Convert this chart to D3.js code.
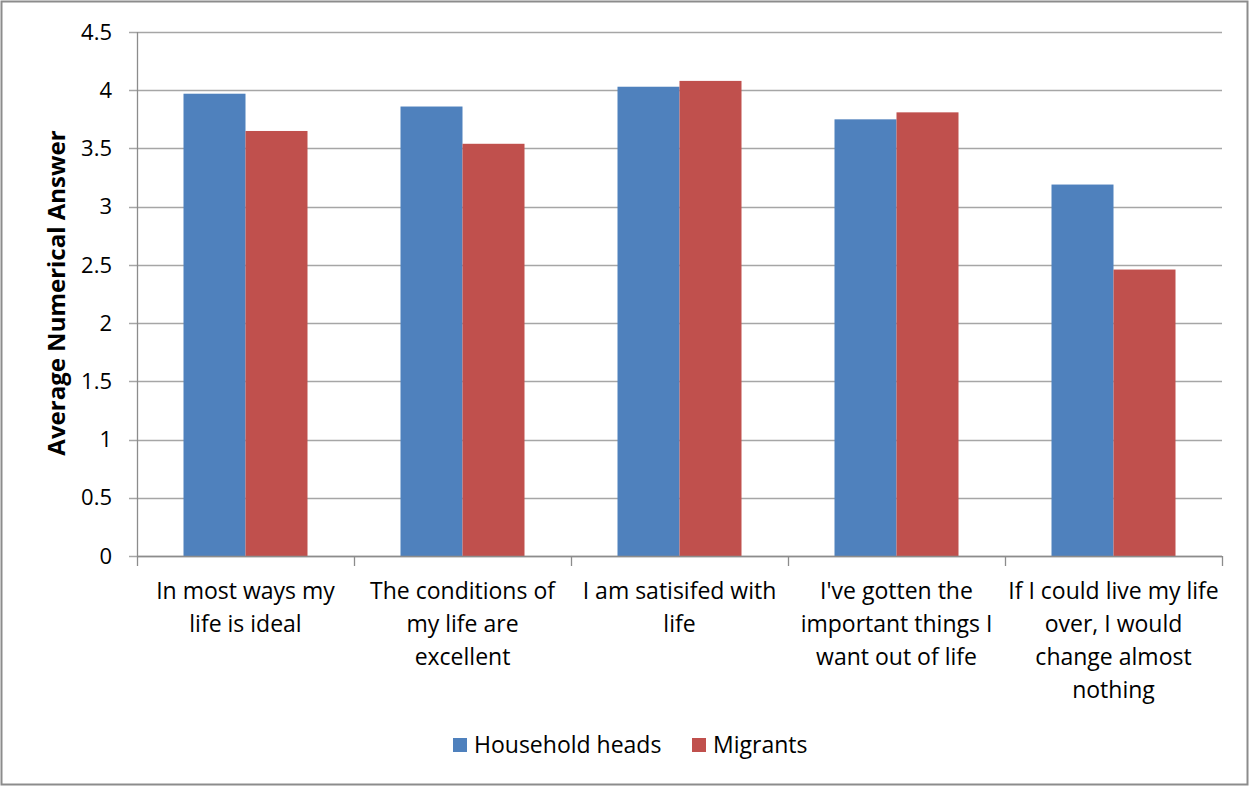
<!DOCTYPE html>
<html>
<head>
<meta charset="utf-8">
<script src="https://cdn.jsdelivr.net/npm/d3@7"></script>
<style>
  body { margin: 0; background: #fff; }
  text { font-family: "Open Sans", Lato, sans-serif; fill: #000; }
</style>
</head>
<body>
<div class="chart"></div>
<script>
var w = 1249;
var h = 786;

// data
var categories = [
  "In most ways my|life is ideal",
  "The conditions of|my life are|excellent",
  "I am satisifed with|life",
  "I've gotten the|important things I|want out of life",
  "If I could live my life|over, I would|change almost|nothing"
];
var series = ["Household heads", "Migrants"];
var householdHeads = [3.97, 3.86, 4.03, 3.75, 3.19];
var migrants = [3.65, 3.54, 4.08, 3.81, 2.46];
var yTicks = [0, 0.5, 1, 1.5, 2, 2.5, 3, 3.5, 4, 4.5];
var colors = ["#4F81BD", "#C0504D"];

var rows = categories.map(function(c, i) {
  return { cat: c, values: [householdHeads[i], migrants[i]] };
});

var plotLeft = 137, plotRight = 1222, plotTop = 32, plotBottom = 556;

var svg = d3.select(".chart")
    .append("svg")
    .attr("width", w)
    .attr("height", h);

// outer frame
svg.append("rect")
    .attr("x", 1.5).attr("y", 1.5)
    .attr("width", w - 3).attr("height", h - 3)
    .attr("fill", "#fff")
    .attr("stroke", "#8c8c8c")
    .attr("stroke-width", 2);

var x0 = d3.scaleBand()
    .domain(categories)
    .range([plotLeft, plotRight])
    .padding(0);

var x1 = d3.scaleBand()
    .domain(series)
    .range([0, x0.bandwidth()])
    .paddingInner(0)
    .paddingOuter(0.75);

var y = d3.scaleLinear()
    .domain([0, 4.5])
    .range([plotBottom, plotTop]);

// gridlines
svg.selectAll(".grid")
    .data(yTicks)
    .enter()
    .append("line")
    .attr("x1", plotLeft - 8)
    .attr("x2", plotRight)
    .attr("y1", function(d) { return Math.round(y(d)) + 0.5; })
    .attr("y2", function(d) { return Math.round(y(d)) + 0.5; })
    .attr("stroke", "#a6a6a6")
    .attr("stroke-width", 1.3);

// bars
var groups = svg.selectAll(".group")
    .data(rows)
    .enter()
    .append("g")
    .attr("transform", function(d) { return "translate(" + x0(d.cat) + ",0)"; });

groups.selectAll("rect")
    .data(function(d) { return d.values.map(function(v, i) { return { s: series[i], v: v, i: i }; }); })
    .enter()
    .append("rect")
    .attr("x", function(d) { return x1(d.s); })
    .attr("width", x1.bandwidth())
    .attr("y", function(d) { return y(d.v); })
    .attr("height", function(d) { return y(0) - y(d.v); })
    .attr("fill", function(d) { return colors[d.i]; });

// y axis line
svg.append("line")
    .attr("x1", plotLeft + 0.5).attr("x2", plotLeft + 0.5)
    .attr("y1", plotTop).attr("y2", plotBottom)
    .attr("stroke", "#8c8c8c").attr("stroke-width", 1.3);

// x axis line + ticks at category boundaries
svg.append("line")
    .attr("x1", plotLeft).attr("x2", plotRight)
    .attr("y1", Math.round(y(0)) + 0.5).attr("y2", Math.round(y(0)) + 0.5)
    .attr("stroke", "#8c8c8c").attr("stroke-width", 1.3);

var bounds = categories.map(function(c) { return x0(c); }).concat([plotRight]);
svg.selectAll(".xtick")
    .data(bounds)
    .enter()
    .append("line")
    .attr("x1", function(d) { return Math.round(d) + 0.5; })
    .attr("x2", function(d) { return Math.round(d) + 0.5; })
    .attr("y1", plotBottom)
    .attr("y2", plotBottom + 10)
    .attr("stroke", "#8c8c8c").attr("stroke-width", 1.3);

// y tick labels
svg.selectAll(".ylabel")
    .data(yTicks)
    .enter()
    .append("text")
    .attr("x", plotLeft - 25)
    .attr("y", function(d) { return y(d); })
    .attr("dy", "0.35em")
    .attr("text-anchor", "end")
    .style("font-size", "22px")
    .text(function(d) { return d; });

// category labels
var catLabels = svg.selectAll(".catlabel")
    .data(categories)
    .enter()
    .append("text")
    .attr("text-anchor", "middle")
    .style("font-size", "23px");

catLabels.selectAll("tspan")
    .data(function(d) { return d.split("|").map(function(t) { return { t: t, c: d }; }); })
    .enter()
    .append("tspan")
    .attr("x", function(d) { return x0(d.c) + x0.bandwidth() / 2; })
    .attr("y", function(d, i) { return 599 + i * 33; })
    .text(function(d) { return d.t; });

// y axis title
svg.append("text")
    .attr("transform", "translate(65,293) rotate(-90)")
    .attr("text-anchor", "middle")
    .style("font-size", "24px")
    .style("font-weight", "bold")
    .text("Average Numerical Answer");

// legend
var legendX = [453, 692];
var legend = svg.selectAll(".legend")
    .data(series)
    .enter()
    .append("g")
    .attr("transform", function(d, i) { return "translate(" + legendX[i] + ",738)"; });

legend.append("rect")
    .attr("width", 14)
    .attr("height", 14)
    .attr("fill", function(d, i) { return colors[i]; });

legend.append("text")
    .attr("x", 21)
    .attr("y", 7)
    .attr("dy", "0.35em")
    .style("font-size", "23px")
    .text(function(d) { return d; });
</script>
</body>
</html>
